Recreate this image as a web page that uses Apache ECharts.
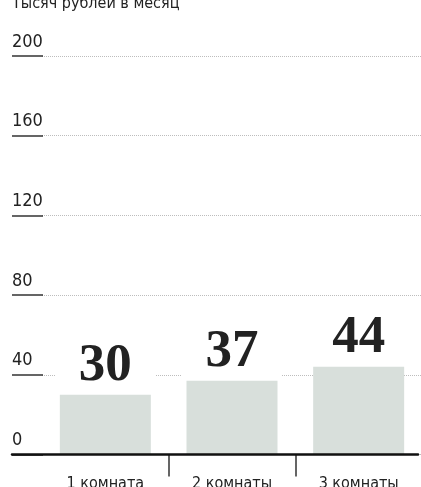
<!DOCTYPE html>
<html>
<head>
<meta charset="utf-8">
<script src="https://cdn.jsdelivr.net/npm/echarts@6/dist/echarts.min.js"></script>
<style>
  html, body { margin: 0; padding: 0; background: #fff; }
  #main { width: 421px; height: 487px; }
</style>
</head>
<body>
<div id="main"></div>
<script>
var rooms = ['1 комната', '2 комнаты', '3 комнаты'];
var rent = [30, 37, 44];
var yTicks = [0, 40, 80, 120, 160, 200];
var unitTitle = 'Тысяч рублей в месяц';

var narrow = '"Liberation Sans Narrow", "DejaVu Sans Condensed", "DejaVu Sans", sans-serif';

var chart = echarts.init(document.getElementById('main'));

// grid 0 carries the y labels, short ticks and the long baseline;
// grid 1 carries the bars, dotted gridlines and the category separators
var option = {
  animation: false,
  title: {
    text: unitTitle,
    left: 12,
    top: -4,
    padding: 0,
    textStyle: { fontFamily: narrow, fontSize: 16, fontWeight: 'normal', color: '#222' }
  },
  grid: [
    { left: 12, right: 3, top: 56, bottom: 32.5, outerBoundsMode: 'none' },
    { left: 42, right: -1, top: 56, bottom: 32.5, outerBoundsMode: 'none' }
  ],
  xAxis: [
    {
      gridIndex: 0, type: 'value', min: 0, max: 1, z: 5,
      axisLine: { show: true, lineStyle: { color: '#111', width: 2.5 } },
      axisTick: { show: false }, axisLabel: { show: false }, splitLine: { show: false }
    },
    {
      gridIndex: 1, type: 'category', data: rooms,
      axisLine: { show: false },
      axisTick: {
        show: true, length: 22,
        interval: function (i) { return i > 0; },
        lineStyle: { color: '#333', width: 1.5 }
      },
      axisLabel: { margin: 21, fontFamily: narrow, fontSize: 16, color: '#222' }
    }
  ],
  yAxis: [
    {
      gridIndex: 0, type: 'value', min: 0, max: 200, interval: 40,
      axisLine: { show: false },
      axisTick: { show: true, inside: true, length: 31, lineStyle: { color: '#333', width: 1.5 } },
      axisLabel: {
        inside: true, margin: 0, align: 'left', verticalAlign: 'bottom',
        lineHeight: 18, padding: [0, 0, 5, 0],
        fontFamily: narrow, fontSize: 18, color: '#222',
        formatter: function (v) { return yTicks.indexOf(v) >= 0 ? String(v) : ''; }
      },
      splitLine: { show: false }
    },
    {
      gridIndex: 1, type: 'value', min: 0, max: 200, interval: 40,
      axisLine: { show: false }, axisTick: { show: false }, axisLabel: { show: false },
      splitLine: { show: true, lineStyle: { color: '#bdbdbd', width: 1, type: [1, 1] } }
    }
  ],
  series: [{
    type: 'bar',
    xAxisIndex: 1,
    yAxisIndex: 1,
    data: rent,
    barWidth: 91,
    itemStyle: { color: '#d8dfdb' },
    label: {
      show: true,
      position: 'top',
      distance: 2,
      width: 100,
      align: 'center',
      backgroundColor: '#fff',
      fontFamily: '"Liberation Serif", "DejaVu Serif", serif',
      fontWeight: 'bold',
      fontSize: 53,
      color: '#222'
    }
  }]
};

chart.setOption(option);
</script>
</body>
</html>
